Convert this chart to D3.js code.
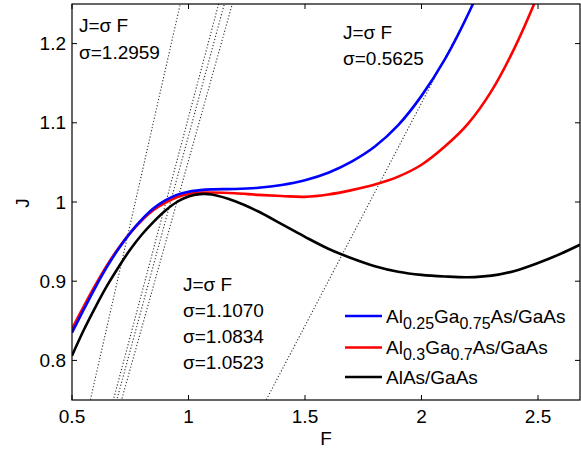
<!DOCTYPE html>
<html>
<head>
<meta charset="utf-8">
<script src="https://cdn.jsdelivr.net/npm/d3@7"></script>
<style>
  body { margin: 0; background: #fff; }
  svg text { font-family: "Liberation Sans", Arial, Helvetica, sans-serif; fill: #000; }
</style>
</head>
<body>
<svg id="chart" width="581" height="450"></svg>
<script>
// field values F where the curves were sampled
var fieldF = [0.5, 0.55, 0.6, 0.65, 0.7, 0.75, 0.8, 0.85, 0.9, 0.95, 1.0, 1.05, 1.1, 1.2, 1.3, 1.4, 1.5, 1.6, 1.7, 1.8, 1.9, 2.0, 2.1, 2.2, 2.3, 2.4, 2.5, 2.6, 2.68];
// current density J for each superlattice
var jAl025 = [0.835, 0.864, 0.892, 0.918, 0.941, 0.961, 0.978, 0.992, 1.002, 1.009, 1.013, 1.015, 1.016, 1.0165, 1.018, 1.0215, 1.0275, 1.037, 1.051, 1.070, 1.097, 1.134, 1.180, 1.237, 1.305, 1.385, 1.47, 1.56, 1.64];
var jAl03  = [0.840, 0.868, 0.895, 0.920, 0.942, 0.961, 0.977, 0.990, 0.999, 1.006, 1.010, 1.0118, 1.012, 1.011, 1.009, 1.0075, 1.0065, 1.0095, 1.015, 1.022, 1.032, 1.047, 1.070, 1.099, 1.140, 1.195, 1.262, 1.34, 1.41];
var jAlAs  = [0.806, 0.838, 0.867, 0.894, 0.918, 0.940, 0.959, 0.975, 0.989, 1.000, 1.007, 1.010, 1.0095, 1.001, 0.988, 0.972, 0.956, 0.941, 0.929, 0.919, 0.912, 0.908, 0.906, 0.905, 0.907, 0.913, 0.923, 0.935, 0.946];

// slopes of the J = sigma F lines
var sigmas = [1.2959, 1.1070, 1.0834, 1.0523, 0.5625];

var xTicks = [0.5, 1, 1.5, 2, 2.5];
var yTicks = [0.8, 0.9, 1, 1.1, 1.2];

var series = [
  {name: "AlAs/GaAs", values: jAlAs, color: "#000000"},
  {name: "Al0.3", values: jAl03, color: "#ff0000"},
  {name: "Al0.25", values: jAl025, color: "#0000ff"}
];

var svg = d3.select("#chart");
var box = {left: 72, right: 580, top: 4, bottom: 400};

var x = d3.scaleLinear().domain([0.5, 0.5 + (box.right - box.left) / 233]).range([box.left, box.right]);
var y = d3.scaleLinear().domain([0.75, 1.25]).range([box.bottom, box.top]);

svg.append("clipPath").attr("id", "plotClip")
  .append("rect")
  .attr("x", box.left).attr("y", box.top)
  .attr("width", box.right - box.left).attr("height", box.bottom - box.top);

var plot = svg.append("g").attr("clip-path", "url(#plotClip)");

// dotted J = sigma F lines
plot.selectAll("line.sigma")
  .data(sigmas)
  .enter().append("line")
  .attr("class", "sigma")
  .attr("x1", function(s) { return x(0.5); })
  .attr("y1", function(s) { return y(0.5 * s); })
  .attr("x2", function(s) { return x(2.7); })
  .attr("y2", function(s) { return y(2.7 * s); })
  .style("stroke", "#333")
  .style("stroke-width", 1.1)
  .style("stroke-dasharray", "1.2,2");

var line = d3.line()
  .x(function(d, i) { return x(fieldF[i]); })
  .y(function(d) { return y(d); })
  .curve(d3.curveCatmullRom.alpha(0.5));

plot.selectAll("path.curve")
  .data([series[1], series[2], series[0]])
  .enter().append("path")
  .attr("class", "curve")
  .attr("d", function(d) { return line(d.values); })
  .style("fill", "none")
  .style("stroke", function(d) { return d.color; })
  .style("stroke-width", 2.6);

// axes box with inward ticks on all four sides
svg.append("rect")
  .attr("x", box.left).attr("y", box.top)
  .attr("width", box.right - box.left).attr("height", box.bottom - box.top)
  .style("fill", "none").style("stroke", "#000").style("stroke-width", 1.2);

var tickLen = 5;
var axes = svg.append("g");
xTicks.forEach(function(t) {
  axes.append("line").attr("x1", x(t)).attr("x2", x(t)).attr("y1", box.bottom).attr("y2", box.bottom - tickLen).style("stroke", "#000");
  axes.append("line").attr("x1", x(t)).attr("x2", x(t)).attr("y1", box.top).attr("y2", box.top + tickLen).style("stroke", "#000");
  axes.append("text").attr("x", x(t)).attr("y", 423)
    .attr("text-anchor", "middle").style("font-size", "19px").text(t);
});
yTicks.forEach(function(t) {
  axes.append("line").attr("x1", box.left).attr("x2", box.left + tickLen).attr("y1", y(t)).attr("y2", y(t)).style("stroke", "#000");
  axes.append("line").attr("x1", box.right).attr("x2", box.right - tickLen).attr("y1", y(t)).attr("y2", y(t)).style("stroke", "#000");
  axes.append("text").attr("x", 66).attr("y", y(t) + 6.5)
    .attr("text-anchor", "end").style("font-size", "19px").text(t);
});

svg.append("text").attr("x", 326).attr("y", 445)
  .attr("text-anchor", "middle").style("font-size", "19px").text("F");
svg.append("text").attr("transform", "translate(29,203) rotate(-90)")
  .attr("text-anchor", "middle").style("font-size", "19px").text("J");

// annotations
function note(x0, baselines, lines) {
  lines.forEach(function(s, i) {
    svg.append("text").attr("x", x0).attr("y", baselines[i]).style("font-size", "19px").text(s);
  });
}
note(79, [32, 58.5], ["J=\u03c3 F", "\u03c3=" + sigmas[0].toFixed(4)]);
note(343, [38.5, 65], ["J=\u03c3 F", "\u03c3=" + sigmas[4].toFixed(4)]);
note(183, [291, 317, 343, 369], ["J=\u03c3 F", "\u03c3=" + sigmas[1].toFixed(4), "\u03c3=" + sigmas[2].toFixed(4), "\u03c3=" + sigmas[3].toFixed(4)]);

// legend
var legendRows = [
  {color: "#0000ff", parts: [["Al", 0], ["0.25", 1], ["Ga", 0], ["0.75", 1], ["As/GaAs", 0]], y: 316},
  {color: "#ff0000", parts: [["Al", 0], ["0.3", 1], ["Ga", 0], ["0.7", 1], ["As/GaAs", 0]], y: 347.5},
  {color: "#000000", parts: [["AlAs/GaAs", 0]], y: 377}
];
var legend = svg.append("g");
legendRows.forEach(function(r) {
  legend.append("line").attr("x1", 345).attr("x2", 382).attr("y1", r.y).attr("y2", r.y)
    .style("stroke", r.color).style("stroke-width", 2.6);
  var t = legend.append("text").attr("x", 386).attr("y", r.y + 6.5).style("font-size", "19px");
  var prevSub = 0;
  r.parts.forEach(function(p) {
    var shift = p[1] - prevSub;
    t.append("tspan")
      .attr("dy", shift * 6)
      .style("font-size", p[1] ? "16px" : "19px")
      .text(p[0]);
    prevSub = p[1];
  });
});
</script>
</body>
</html>
